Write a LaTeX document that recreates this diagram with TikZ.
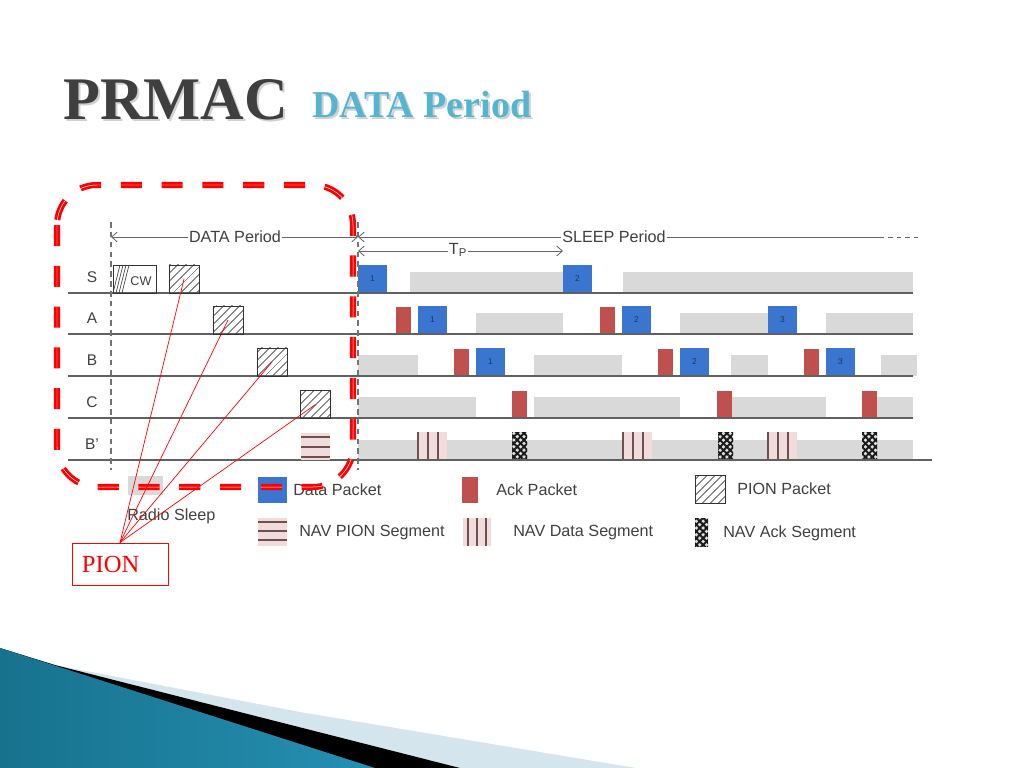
\documentclass[tikz,border=0pt]{standalone}
\usepackage{fontspec}
\setmainfont{Liberation Sans}
\newfontfamily\serifttl{Liberation Serif}
\usepackage{tikz}
\usetikzlibrary{patterns.meta,arrows.meta}

\definecolor{sleepgray}{HTML}{D9D9D9}
\definecolor{datablue}{HTML}{3A76CF}
\definecolor{numblue}{HTML}{1F3560}
\definecolor{ackred}{HTML}{C0504D}
\definecolor{navpink}{HTML}{F2DCDB}
\definecolor{navline}{HTML}{6E5050}
\definecolor{txtgray}{HTML}{404040}
\definecolor{titlegray}{HTML}{3F3F3F}
\definecolor{titleblue}{HTML}{55B5D0}
\definecolor{wedgedark}{HTML}{17728D}
\definecolor{wedgemid}{HTML}{4DB8DA}
\definecolor{wedgeend}{HTML}{2590B3}
\definecolor{stripblue}{HTML}{D5E5EE}

\tikzset{
    rowline/.style={draw=black!62, line width=1.1pt},
    boundary/.style={draw=black!55, line width=0.8pt, dash pattern=on 4pt off 3pt},
    period/.style={draw=black!60, line width=0.6pt},
    hatch/.style={draw=black!80, line width=0.6pt, pattern={Lines[angle=45,distance=4pt,line width=0.7pt]}, pattern color=black!70},
    pionpkt/.style={hatch, minimum width=0.75cm, minimum height=0.7cm, inner sep=0pt},
    navack/.style={fill=gray!25,
        postaction={pattern={Lines[angle=45,distance=3.4pt,line width=1.4pt]}, pattern color=black!90},
        postaction={pattern={Lines[angle=-45,distance=3.4pt,line width=1.4pt]}, pattern color=black!90}},
    legtext/.style={anchor=west, inner sep=0pt}
}

\begin{document}
\begin{tikzpicture}[x=0.025cm, y=-0.025cm, >={Straight Barb[length=4pt,width=7pt]},
        font=\fontsize{11.5}{13}\selectfont, every node/.style={text=txtgray}]
    \useasboundingbox (0,0) rectangle (1024,768);

    % bottom corner decoration
    \fill[stripblue] (55,665) -- (300,712) -- (636,768) -- (460,768) -- cycle;
    \fill[black] (0,648) -- (55,665) -- (460,768) -- (0,768) -- cycle;
    \shade[left color=wedgedark, middle color=wedgemid, right color=wedgeend] (0,648) -- (375,768) -- (0,768) -- cycle;

    % title
    \node[anchor=base west, inner sep=0pt, text=black!18, font=\serifttl\bfseries\fontsize{43}{48}\selectfont] at (65,122) {PRMAC};
    \node[anchor=base west, inner sep=0pt, text=titlegray, font=\serifttl\bfseries\fontsize{43}{48}\selectfont] (title) at (63,120) {PRMAC};
    \node[anchor=base west, inner sep=0pt, text=black!18, font=\serifttl\bfseries\fontsize{27}{30}\selectfont] at (314,120) {DATA Period};
    \node[anchor=base west, inner sep=0pt, text=titleblue, font=\serifttl\bfseries\fontsize{27}{30}\selectfont] (subtitle) at (312,118) {DATA Period};

    % sleep bars
    \foreach \y/\x/\xx in {293/410/563, 293/623/913, 334/476/563, 334/680/768, 334/826/913,
            376/358/418, 376/534/622, 376/731/768, 376/881/917,
            418/358/476, 418/534/680, 418/731/826, 418/877/913}
        \fill[sleepgray] (\x,\y-21) rectangle (\xx,\y);
    \fill[sleepgray] (358,440) rectangle (913,460);

    % data and ack packets
    \foreach \y/\x/\k in {293/358/1, 293/563/2, 334/418/1, 334/622/2, 334/768/3, 376/476/1, 376/680/2, 376/826/3}{
        \fill[datablue] (\x,\y-28) rectangle (\x+29,\y);
        \node[text=numblue, font=\fontsize{6}{7}\selectfont] at (\x+14.5,\y-14) {\k};
    }
    \foreach \y/\x in {334/396, 334/600, 376/454, 376/658, 376/804, 418/512, 418/717, 418/862}
        \fill[ackred] (\x,\y-27) rectangle (\x+15,\y);

    % NAV segments of B'
    \foreach \x in {418,623,768}{
        \fill[navpink] (\x,432) rectangle (\x+29,460);
        \foreach \d in {0,10,20}
            \draw[navline, line width=0.9pt] (\x+\d,432) -- (\x+\d,460);
    }
    \foreach \x in {512,718,862}
        \path[navack] (\x,432) rectangle (\x+15,460);

    % rows
    \foreach \lab/\id/\y/\e in {S/s/293/913, A/a/334/913, B/b/376/913, C/c/418/913, B'/bp/460/932}{
        \draw[rowline] (68,\y) -- (\e,\y);
        \node[font=\fontsize{11}{13}\selectfont] (row\id) at (92,\y-16) {\lab};
    }
    \draw[boundary] (111,222) -- (111,470);
    \draw[boundary] (358,222) -- (358,470);

    % periods
    \draw[period,<->] (111,237) -- (358,237);
    \node[fill=white, inner sep=1pt] (dataper) at (235,237) {DATA Period};
    \draw[period,<-] (358,237) -- (880,237);
    \draw[period,dashed] (880,237) -- (922,237);
    \node[fill=white, inner sep=1pt] (sleepper) at (614,237) {SLEEP Period};
    \draw[period,<->] (358,251) -- (563,251);
    \node[fill=white, inner sep=1pt] (tp) at (458,250) {T\textsubscript{P}};

    % contention window and PION packets
    \draw[draw=black!80, line width=0.6pt] (113,265) rectangle (156,293);
    \foreach \d in {0,3,6,9}
        \draw[black!75, line width=0.5pt] (113+\d,293) -- (120+\d,265);
    \node[font=\fontsize{9}{10}\selectfont] (cw) at (141,281) {CW};
    \node[pionpkt] (pS) at (184,279) {};
    \node[pionpkt] (pA) at (228,320) {};
    \node[pionpkt] (pB) at (272,362) {};
    \node[pionpkt] (pC) at (315.5,404.5) {};
    \fill[navpink] (301,433) rectangle (330,460);
    \foreach \h in {437,447,457}
        \draw[navline, line width=0.9pt] (301,\h) -- (330,\h);

    % legend
    \fill[sleepgray] (128,476) rectangle (163,495);
    \node[legtext] (lgsleep) at (127,516) {Radio Sleep};
    \fill[datablue] (258,477) rectangle (287,503);
    \node[legtext] (lgdata) at (293,490) {Data Packet};
    \fill[ackred] (462,477) rectangle (478,503);
    \node[legtext] (lgack) at (496,490) {Ack Packet};
    \draw[hatch] (695,475) rectangle (725,503);
    \node[legtext] (lgpion) at (737,489) {PION Packet};
    \fill[navpink] (258,518) rectangle (287,546);
    \foreach \h in {522,531,540}
        \draw[navline, line width=0.9pt] (258,\h) -- (287,\h);
    \node[legtext] (lgnavpion) at (299,533) {NAV PION Segment};
    \fill[navpink] (463,518) rectangle (491,546);
    \foreach \v in {468,477,486}
        \draw[navline, line width=0.9pt] (\v,518) -- (\v,546);
    \node[legtext] (lgnavdata) at (513,533) {NAV Data Segment};
    \path[navack] (695,518) rectangle (708,546);
    \node[legtext] (lgnavack) at (723,533) {NAV Ack Segment};

    % highlight of the data period
    \draw[red, line width=2pt, double=white, double distance=0.35pt, dash pattern=on 15pt off 14pt, rounded corners=1cm]
        (57,185) rectangle (353,487);

    % PION callout
    \node[draw=red, line width=0.6pt, fill=white, minimum width=2.4cm, minimum height=1.05cm, inner xsep=0.25cm,
        text width=1.9cm, align=left, text=red, font=\serifttl\fontsize{17.5}{20}\selectfont] (pion) at (120,564) {PION};
    \foreach \p in {pS,pA,pB,pC}
        \draw[red, line width=0.5pt] (pion.north) -- (\p.center);
\end{tikzpicture}
\end{document}
